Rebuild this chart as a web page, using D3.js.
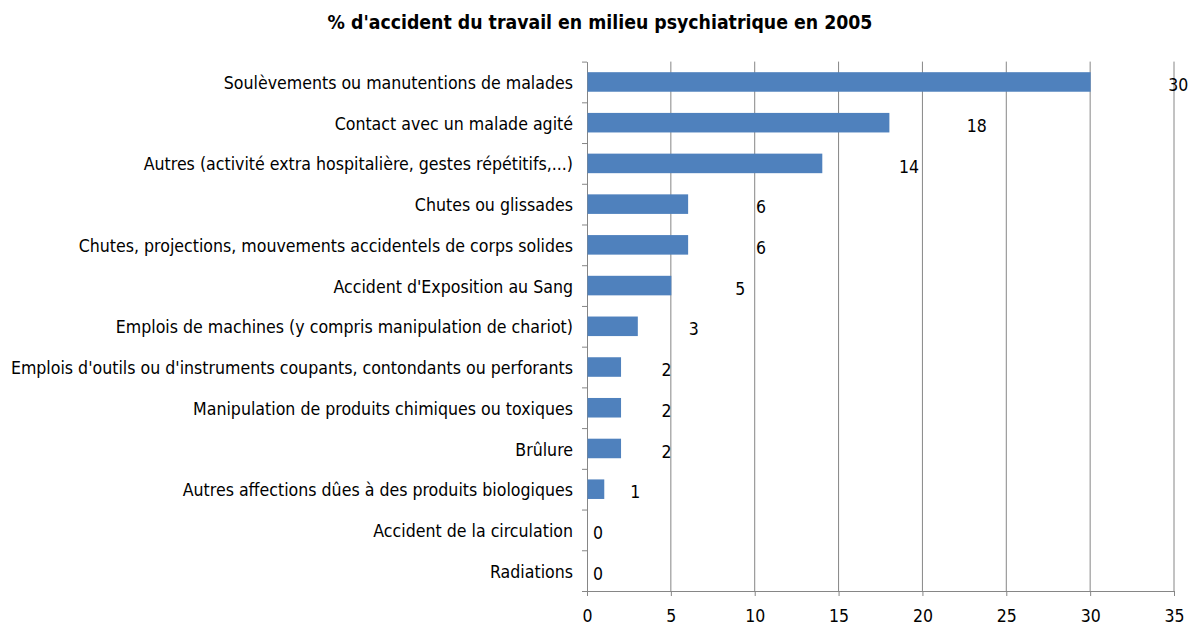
<!DOCTYPE html>
<html><head><meta charset="utf-8">
<script src="https://cdn.jsdelivr.net/npm/d3@7"></script>
<style>
body{margin:0;background:#fff;}
text{font-family:"Liberation Sans Narrow","DejaVu Sans Condensed",sans-serif;fill:#000;}
</style></head>
<body><svg id="c" width="1189" height="629"></svg>
<script>
const title = "% d'accident du travail en milieu psychiatrique en 2005";
const categories = [
  "Soulèvements ou manutentions de malades",
  "Contact avec un malade agité",
  "Autres (activité extra hospitalière, gestes répétitifs,...)",
  "Chutes ou glissades",
  "Chutes, projections, mouvements accidentels de corps solides",
  "Accident d'Exposition au Sang",
  "Emplois de machines (y compris manipulation de chariot)",
  "Emplois d'outils ou d'instruments coupants, contondants ou perforants",
  "Manipulation de produits chimiques ou toxiques",
  "Brûlure",
  "Autres affections dûes à des produits biologiques",
  "Accident de la circulation",
  "Radiations"
];
const values = [30, 18, 14, 6, 6, 5, 3, 2, 2, 2, 1, 0, 0];
const xTicks = [0, 5, 10, 15, 20, 25, 30, 35];

const FONT = '"Liberation Sans Narrow","DejaVu Sans Condensed",sans-serif';
const svg = d3.select("#c");
const m = {left:587, right:1174, top:61.6, bottom:591};
const x = d3.scaleLinear().domain([0,35]).range([m.left, m.right]);
const y = d3.scaleBand().domain(categories).range([m.top, m.bottom]).paddingInner(0.52).paddingOuter(0.26);
const yb = d3.scaleBand().domain(categories).range([m.top, m.bottom]);

svg.append("text").attr("x", 600).attr("y", 29).attr("text-anchor","middle")
  .style("font-size","19.3px").style("font-weight","bold").text(title);

// gridlines
svg.append("g").selectAll("line").data(xTicks.slice(1)).join("line")
  .attr("x1", d=>x(d)).attr("x2", d=>x(d)).attr("y1", m.top).attr("y2", m.bottom)
  .attr("stroke","#868686").attr("stroke-width",1);

// x axis
const xa = svg.append("g").attr("transform",`translate(0,${m.bottom})`)
  .call(d3.axisBottom(x).tickValues(xTicks).tickSize(5).tickPadding(14));
xa.select(".domain").attr("stroke","#868686").attr("d", `M${m.left-5},0.5H${m.right}`);
xa.selectAll(".tick line").attr("stroke","#868686");
xa.selectAll(".tick text").style("font-size","17.5px").style("font-family",FONT).attr("fill","#000");

// y axis
const ya = svg.append("g").attr("transform",`translate(${m.left},0)`)
  .call(d3.axisLeft(yb).tickSize(0).tickPadding(14));
ya.select(".domain").attr("stroke","#868686");
ya.selectAll(".tick text").style("font-size","17.6px").style("font-family",FONT).attr("fill","#000").attr("dy","0.4em");
// category boundary ticks
svg.append("g").selectAll("line").data(categories).join("line")
  .attr("x1", m.left-5).attr("x2", m.left).attr("y1", d=>yb(d)+0.5).attr("y2", d=>yb(d)+0.5)
  .attr("stroke","#868686");

// bars
svg.append("g").selectAll("rect").data(values).join("rect")
  .attr("x", x(0)+0.5).attr("y", (d,i)=>y(categories[i]))
  .attr("width", d=>Math.max(0, x(d)-x(0))).attr("height", y.bandwidth())
  .attr("fill","#4F81BD");

// value labels (offset grows with bar length, as in source)
svg.append("g").selectAll("text").data(values).join("text")
  .attr("x", d=>x(d) + 6 + 72*(1-Math.exp(-d/3)))
  .attr("y", (d,i)=>yb(categories[i]) + yb.bandwidth()/2 + 3)
  .attr("dy","0.35em").style("font-size","17.5px").text(d=>d);
</script></body></html>
